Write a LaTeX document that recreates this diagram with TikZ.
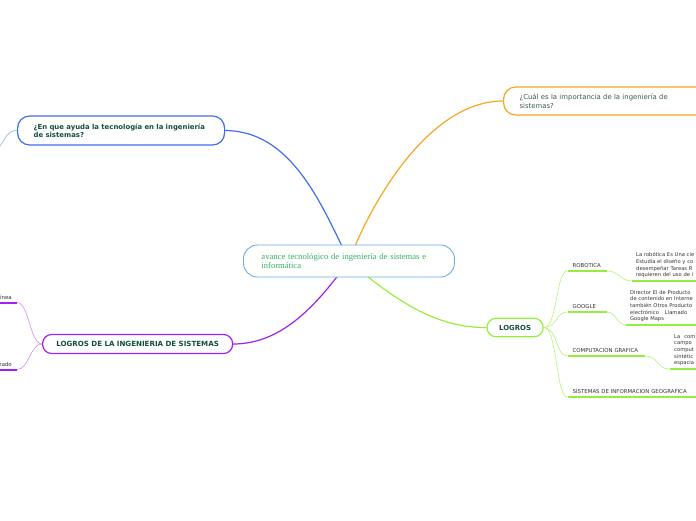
\documentclass[tikz,border=0pt]{standalone}
\usepackage{fontspec}
\setmainfont{DejaVu Sans}
\newfontfamily\centralfont{Liberation Serif}
\usepackage{xcolor}
\usepackage{tikz}
\usetikzlibrary{
  positioning,
  backgrounds
}

\definecolor{txtgreen}{HTML}{134F3C}
\definecolor{orangetxt}{HTML}{3D5B4C}
\definecolor{centergreen}{HTML}{35B062}
\definecolor{centerblue}{HTML}{6AAEE3}
\definecolor{qblue}{HTML}{3F6FF0}
\definecolor{qbluelight}{HTML}{8FA9F2}
\definecolor{qorange}{HTML}{F5A623}
\definecolor{qpurple}{HTML}{A020F0}
\definecolor{qpurplelight}{HTML}{CC8EF8}
\definecolor{qgreen}{HTML}{96EE3C}
\definecolor{qgreenlight}{HTML}{B5F27A}
\definecolor{leafgray}{HTML}{333333}

\begin{document}
\begin{tikzpicture}[x=1pt,y=-1pt,
  bubble/.style={draw, line width=1.2pt, fill=white, anchor=west, inner ysep=0pt, text=txtgreen},
  leaf/.style={anchor=south west, inner xsep=5pt, inner ysep=3pt, align=left, text=leafgray, font=\fontsize{5.4}{6.5}\selectfont},
  note/.style={anchor=south west, inner xsep=4pt, inner ysep=3pt, align=left, text=leafgray, font=\fontsize{5.2}{6.6}\selectfont},
  branch/.style={line width=1.2pt},
  twig/.style={line width=0.6pt},
  uline/.style={line width=2pt}
]
  \useasboundingbox (0,0) rectangle (696,520);
  \clip (0,0) rectangle (696,520);

  % Central topic
  \node[bubble, draw=centerblue, line width=0.9pt, rounded corners=14pt, minimum height=32pt,
        text width=175pt, inner xsep=18pt, align=left, text=centergreen,
        font=\centralfont\fontsize{8.6}{9.8}\selectfont] (centre) at (243,261)
        {avance tecnológico de ingeniería de sistemas e\\informática};

  % Main topics
  \node[bubble, draw=qblue, rounded corners=12pt, minimum height=29pt, text width=175pt,
        inner xsep=16pt, align=left, font=\bfseries\fontsize{6.9}{8.4}\selectfont] (help) at (17,130.5)
        {¿En que ayuda la tecnología en la ingeniería\\de sistemas?};
  \node[bubble, draw=qorange, rounded corners=12pt, minimum height=28pt, text width=200pt,
        inner xsep=16pt, align=left, text=orangetxt, font=\fontsize{6.9}{8.6}\selectfont] (import) at (503,101)
        {¿Cuál es la importancia de la ingeniería de\\sistemas?};
  \node[bubble, draw=qpurple, rounded corners=9pt, minimum height=19pt, text width=178pt,
        inner xsep=6pt, align=center, font=\bfseries\fontsize{7.1}{8}\selectfont] (achieve) at (42,344)
        {LOGROS DE LA INGENIERIA DE SISTEMAS};
  \node[bubble, draw=qgreen, rounded corners=9pt, minimum height=18.5pt, text width=40pt,
        inner xsep=8pt, align=center, font=\bfseries\fontsize{6.9}{8}\selectfont] (logros) at (486.5,327.5)
        {LOGROS};

  % Subtopics of LOGROS
  \node[leaf, text width=29pt] (rob) at (567.5,271) {ROBOTICA};
  \node[leaf, text width=29pt] (goo) at (567.5,312) {GOOGLE};
  \node[leaf, text width=67pt] (comp) at (567.5,356) {COMPUTACION GRAFICA};
  \node[leaf, text width=130pt] (sig) at (567.5,397) {SISTEMAS DE INFORMACION GEOGRAFICA};

  \node[note, text width=72pt] (rnote) at (632,281)
    {La robótica Es Una cie\\Estudia el diseño y co\\desempeñar Tareas R\\requieren del uso de i};
  \node[note, text width=72pt] (gnote) at (626,325)
    {Director El de Producto\\de contenido en Interne\\también Otros Producto\\electrónico\hspace{6pt}Llamado\\Google Maps};
  \node[note, text width=32pt] (cnote) at (670,369)
    {La\hspace{4pt}com\\campo\\comput\\sintétic\\espacia};

  % Subtopics of the purple topic
  \node[leaf, anchor=south east, align=right] (online) at (17,302.5) {ínea};
  \node[leaf, anchor=south east, align=right] (done) at (17,369.5) {zado};
  \coordinate (helpout) at (0,146);

  % Underlines
  \foreach \n in {rob,goo,comp,sig,rnote,gnote,cnote}{
    \draw[uline,qgreen] (\n.south west) -- (\n.south east);
  }
  \foreach \n in {online,done}{
    \draw[uline,qpurple] (\n.south west) -- (\n.south east);
  }

  % Branches
  \begin{scope}[on background layer]
    \draw[branch,qblue] (centre.center) .. controls (320,200) and (290,131) .. (help.east);
    \draw[branch,qorange] (centre.center) .. controls (372,200) and (430,101) .. (import.west);
    \draw[branch,qpurple] (centre.center) .. controls (320,300) and (285,344) .. (achieve.east);
    \draw[branch,qgreen] (centre.center) .. controls (400,305) and (440,328) .. (logros.west);

    \foreach \n in {rob,goo,comp,sig}{
      \draw[twig,qgreenlight] (logros.east) .. controls +(14,0) and +(-12,0) .. (\n.south west);
    }
    \draw[twig,qgreenlight] (rob.south east) .. controls +(12,0) and +(-12,0) .. (rnote.south west);
    \draw[twig,qgreenlight] (goo.south east) .. controls +(10,0) and +(-10,0) .. (gnote.south west);
    \draw[twig,qgreenlight] (comp.south east) .. controls +(14,0) and +(-14,0) .. (cnote.south west);

    \foreach \n in {online,done}{
      \draw[twig,qpurplelight] (achieve.west) .. controls +(-12,0) and +(12,0) .. (\n.south east);
    }
    \draw[twig,qbluelight] (help.west) .. controls +(-10,0) and +(6,-8) .. (helpout);
  \end{scope}
\end{tikzpicture}
\end{document}
